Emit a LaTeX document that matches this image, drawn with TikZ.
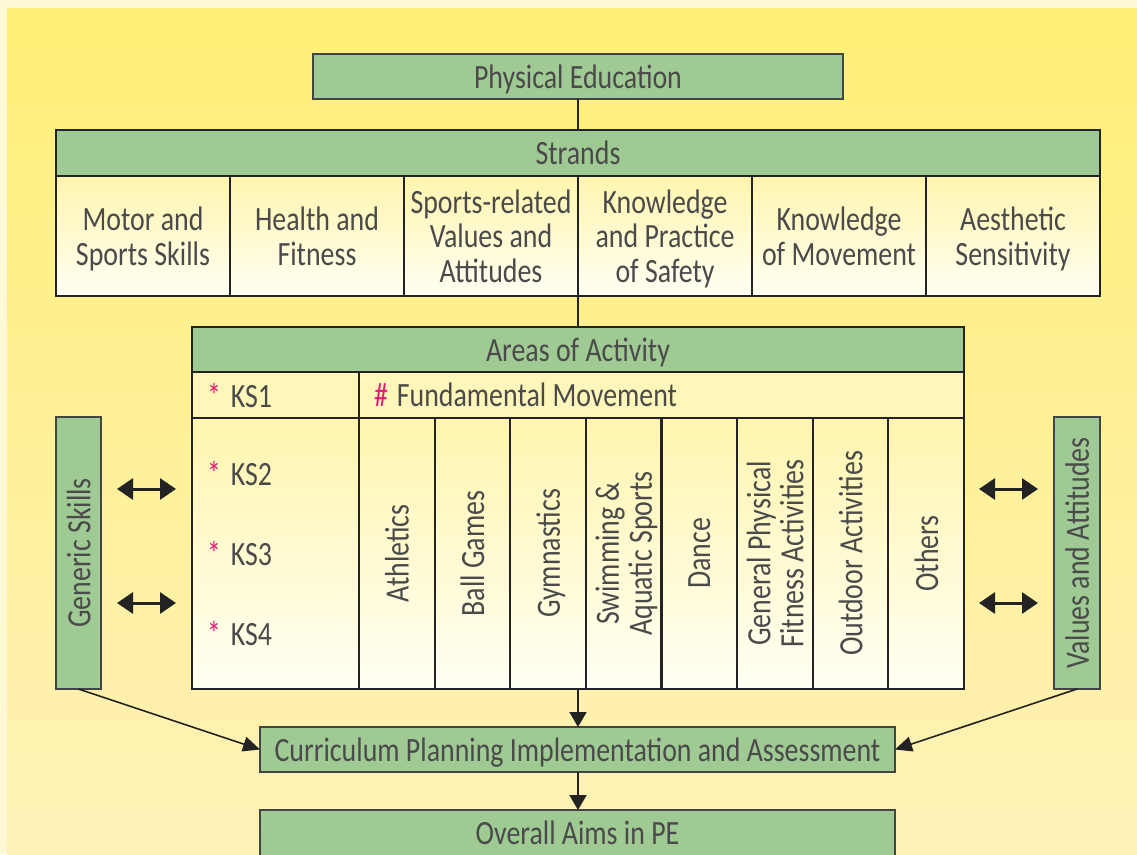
\documentclass[tikz,border=0pt]{standalone}
\usepackage{fontspec}
\setmainfont{Carlito}[FakeStretch=0.82]
\usetikzlibrary{arrows.meta}
\definecolor{bgpale}{HTML}{FFF8D4}
\definecolor{bgtop}{HTML}{FFF077}
\definecolor{bgbot}{HTML}{FFF1B8}
\definecolor{pegreen}{HTML}{A0CA94}
\definecolor{ink}{HTML}{232323}
\definecolor{txt}{HTML}{4A4A4A}
\definecolor{cellTop}{HTML}{FFF5AE}
\definecolor{cellBot}{HTML}{FFFFF4}
\definecolor{starc}{HTML}{E5197C}
\newcommand{\ksl}[1]{\textcolor{starc}{*}\hspace{10pt}KS#1}
\begin{document}
\begin{tikzpicture}[x=1pt,y=-1pt,
  every node/.style={font=\fontsize{34}{34.5}\selectfont, text=txt, inner sep=0pt, outer sep=0pt, text depth=0pt},
  greenbox/.style={draw=ink!85, line width=1.3pt, fill=pegreen, minimum height=45pt},
  headbox/.style={draw=ink, line width=2.2pt, fill=pegreen, minimum height=46pt},
  cellbox/.style={draw=ink, line width=2.2pt, top color=cellTop, bottom color=cellBot, align=center},
  rowbox/.style={draw=ink, line width=2.2pt, fill=cellTop!85!white},
  vlabel/.style={rotate=90, align=center},
  dblarrow/.style={line width=3pt, {Triangle[length=16pt,width=21pt]}-{Triangle[length=16pt,width=21pt]}},
  varrow/.style={line width=2pt, draw=ink, -{Triangle[length=15pt,width=17pt]}},
  diagarrow/.style={line width=1.6pt, draw=ink, -{Triangle[length=17pt,width=15pt]}}
]
\useasboundingbox (0,0) rectangle (1137,854);
\clip (0,0) rectangle (1137,854);
% background
\fill[bgpale] (0,0) rectangle (1137,854);
\shade[top color=bgtop, bottom color=bgbot] (7,8) rectangle (1137,854);

% top box
\node[greenbox, minimum width=530pt] (pe) at (578,76.5) {Physical Education};

% strands
\node[headbox, minimum width=1044pt] (strands) at (578,153) {Strands};
\draw[ink, line width=2.4pt] (pe.south -| strands.north) -- (strands.north);
\foreach \i/\t in {0/{Motor and\\Sports Skills},1/{Health and\\Fitness},2/{Sports-related\\Values and\\Attitudes},3/{Knowledge\\and Practice\\of Safety},4/{Knowledge\\of Movement},5/{Aesthetic\\Sensitivity}}{
  \node[cellbox, minimum width=174pt, minimum height=120pt] (s\i) at ({143+174*\i},236) {\t};
}

% areas of activity
\node[headbox, minimum width=772pt, minimum height=45pt] (areas) at (578,349.5) {Areas of Activity};
\node[rowbox, minimum width=167pt, minimum height=46pt] (ks1row) at (275.5,395) {};
\node[rowbox, minimum width=605pt, minimum height=46pt] (fmrow) at (661.5,395) {};
\node[anchor=west] (ks1) at (207,395) {\ksl{1}};
\node[anchor=west] (fm) at (374,395) {\textcolor{starc}{\#}\hspace{9pt}Fundamental Movement};

\node[cellbox, minimum width=167pt, minimum height=271pt] (kscol) at (275.5,553.5) {};
\node[anchor=west] (ks2) at (207,473) {\ksl{2}};
\node[anchor=west] (ks3) at (207,553) {\ksl{3}};
\node[anchor=west] (ks4) at (207,633) {\ksl{4}};

\foreach \i/\t in {0/{Athletics},1/{Ball Games},2/{Gymnastics},3/{Swimming \&\\[-1.5pt]Aquatic Sports},4/{Dance},5/{General Physical\\[-1.5pt]Fitness Activities},6/{Outdoor Activities},7/{Others}}{
  \node[cellbox, minimum width=75.625pt, minimum height=271pt] (a\i) at ({359+75.625*(\i+0.5)},553.5) {};
  \node[vlabel] (al\i) at (a\i.center) {\t};
}

% side boxes
\node[greenbox, minimum width=45pt, minimum height=272pt] (gs) at (78.5,553) {};
\node[vlabel] (gsl) at (gs.center) {Generic Skills};
\node[greenbox, minimum width=46pt, minimum height=272pt] (va) at (1077,553) {};
\node[vlabel] (val) at (va.center) {Values and Attitudes};

% double arrows
\coordinate (l1a) at (117,489); \coordinate (l1b) at (176,489);
\coordinate (l2a) at (117,603); \coordinate (l2b) at (176,603);
\coordinate (r1a) at (979,489); \coordinate (r1b) at (1038,489);
\coordinate (r2a) at (979,603); \coordinate (r2b) at (1038,603);
\draw[dblarrow, draw=ink, fill=ink] (l1a) -- (l1b);
\draw[dblarrow, draw=ink, fill=ink] (l2a) -- (l2b);
\draw[dblarrow, draw=ink, fill=ink] (r1a) -- (r1b);
\draw[dblarrow, draw=ink, fill=ink] (r2a) -- (r2b);

% bottom boxes
\node[greenbox, minimum width=635pt] (cur) at (577.5,749.5) {Curriculum Planning Implementation and Assessment};
\node[greenbox, minimum width=635pt, minimum height=46pt] (aims) at (577.5,833) {Overall Aims in PE};

% connectors
\coordinate (sbot) at (578,296);
\draw[ink, line width=2.4pt] (sbot) -- (sbot |- areas.north);
\coordinate (blockbot) at (578,689);
\draw[varrow, fill=ink] (blockbot) -- (cur.north -| blockbot);
\draw[varrow, fill=ink] (cur.south -| blockbot) -- (aims.north -| blockbot);
\draw[diagarrow, fill=ink] (gs.south) -- (cur.west);
\draw[diagarrow, fill=ink] (va.south) -- (cur.east);
\end{tikzpicture}
\end{document}
